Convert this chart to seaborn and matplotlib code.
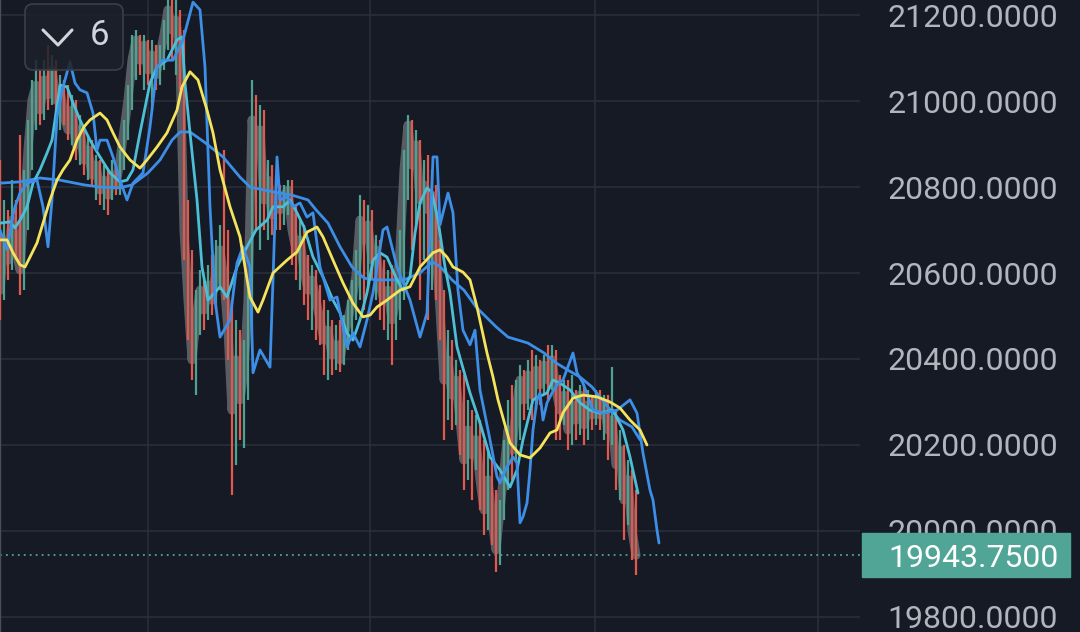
import numpy as np
import seaborn as sns
import matplotlib.pyplot as plt
from matplotlib.patches import Rectangle, FancyBboxPatch
from matplotlib.lines import Line2D
from matplotlib.transforms import blended_transform_factory

sns.set_style('dark', {'axes.facecolor': '#161a25', 'figure.facecolor': '#161a25'})
plt.rcParams['font.family'] = ['Roboto', 'DejaVu Sans']

# candles, one per bar
opens = [20654, 20560, 20677, 20630, 20723, 20654, 20607, 20747, 20886, 21002,
         21037, 20979, 21049, 21014, 21072, 21002, 21026, 20967, 20933, 20979,
         20898, 20933, 20863, 20886, 20828, 20851, 20793, 20816, 20781, 20828,
         20805, 20863, 20933, 21002, 21095, 21142, 21095, 21130, 21072, 21107,
         21061, 21107, 21154, 21212, 21165, 21188, 21095, 20700, 20537, 20398,
         20491, 20560, 20514, 20572, 20537, 20607, 20654, 20584, 20467, 20281,
         20398, 20305, 20374, 20537, 20956, 20886, 20933, 20770, 20816, 20735,
         20781, 20747, 20781, 20793, 20700, 20654, 20677, 20607, 20560, 20584,
         20537, 20491, 20444, 20467, 20409, 20433, 20398, 20456, 20491, 20537,
         20595, 20723, 20677, 20712, 20630, 20654, 20572, 20537, 20560, 20491,
         20537, 20654, 20840, 20944, 20851, 20898, 20770, 20805, 20747, 20781,
         20654, 20514, 20351, 20398, 20316, 20351, 20258, 20165, 20235, 20177,
         20212, 20119, 20049, 20119, 20026, 19956, 20049, 20142, 20235, 20188,
         20281, 20351, 20305, 20363, 20316, 20374, 20340, 20386, 20351, 20398,
         20328, 20281, 20316, 20235, 20293, 20258, 20316, 20247, 20293, 20270,
         20305, 20270, 20293, 20235, 20258, 20154, 20188, 20072, 20119, 20002]
highs = [20863, 20770, 20747, 20816, 20770, 20921, 20840, 20956, 21049, 21095,
         21072, 21095, 21130, 21107, 21095, 21061, 21049, 21037, 21014, 21002,
         20967, 20944, 20921, 20909, 20874, 20863, 20851, 20840, 20863, 20851,
         20886, 20956, 21037, 21154, 21165, 21154, 21154, 21142, 21142, 21130,
         21130, 21188, 21246, 21246, 21235, 21212, 21165, 20770, 20654, 20560,
         20607, 20584, 20619, 20642, 20677, 20712, 20886, 20700, 20537, 20491,
         20467, 20444, 20560, 21049, 21014, 20991, 20979, 20863, 20851, 20828,
         20805, 20805, 20816, 20816, 20758, 20723, 20712, 20642, 20619, 20607,
         20572, 20537, 20514, 20491, 20479, 20491, 20502, 20537, 20584, 20654,
         20781, 20770, 20758, 20747, 20688, 20677, 20630, 20607, 20619, 20584,
         20700, 20886, 20967, 20956, 20933, 20909, 20863, 20874, 20840, 20805,
         20677, 20560, 20467, 20444, 20398, 20374, 20363, 20305, 20281, 20270,
         20258, 20212, 20188, 20165, 20095, 20072, 20212, 20305, 20340, 20351,
         20386, 20374, 20398, 20421, 20409, 20398, 20409, 20433, 20433, 20421,
         20363, 20351, 20351, 20363, 20328, 20340, 20340, 20328, 20316, 20328,
         20328, 20316, 20316, 20381, 20281, 20235, 20200, 20165, 20142, 20095]
lows = [20491, 20537, 20584, 20607, 20630, 20549, 20560, 20700, 20840, 20933,
        20944, 20956, 20979, 20991, 20967, 20933, 20944, 20909, 20898, 20863,
        20851, 20828, 20816, 20805, 20770, 20758, 20747, 20735, 20770, 20781,
        20781, 20840, 20909, 20979, 21049, 21061, 21026, 21037, 20979, 21026,
        21037, 21072, 21119, 21095, 21061, 21026, 20630, 20444, 20351, 20316,
        20456, 20467, 20491, 20502, 20514, 20560, 20537, 20398, 20084, 20154,
        20212, 20193, 20305, 20467, 20700, 20654, 20700, 20677, 20688, 20700,
        20700, 20712, 20735, 20619, 20584, 20560, 20526, 20491, 20467, 20444,
        20433, 20363, 20351, 20363, 20374, 20370, 20386, 20421, 20456, 20491,
        20537, 20514, 20572, 20584, 20537, 20491, 20467, 20444, 20386, 20444,
        20491, 20537, 20770, 20654, 20700, 20537, 20630, 20491, 20560, 20537,
        20444, 20212, 20258, 20235, 20247, 20177, 20095, 20119, 20072, 20142,
        20049, 19991, 20002, 19967, 19905, 19921, 20026, 20095, 20119, 20165,
        20212, 20258, 20281, 20258, 20281, 20293, 20316, 20305, 20328, 20212,
        20212, 20247, 20188, 20200, 20212, 20223, 20200, 20212, 20235, 20247,
        20235, 20212, 20165, 20200, 20095, 20072, 19979, 20014, 19933, 19898]
closes = [20560, 20677, 20630, 20723, 20654, 20607, 20747, 20886, 21002, 21037,
          20979, 21049, 21014, 21072, 21002, 21026, 20967, 20933, 20979, 20898,
          20933, 20863, 20886, 20828, 20851, 20793, 20816, 20781, 20828, 20805,
          20863, 20933, 21002, 21095, 21142, 21095, 21130, 21072, 21107, 21061,
          21107, 21154, 21212, 21165, 21188, 21095, 20700, 20537, 20398, 20491,
          20560, 20514, 20572, 20537, 20607, 20654, 20584, 20467, 20281, 20398,
          20305, 20374, 20537, 20956, 20886, 20933, 20770, 20816, 20735, 20781,
          20747, 20781, 20793, 20700, 20654, 20677, 20607, 20560, 20584, 20537,
          20491, 20444, 20467, 20409, 20433, 20398, 20456, 20491, 20537, 20595,
          20723, 20677, 20712, 20630, 20654, 20572, 20537, 20560, 20491, 20537,
          20654, 20840, 20944, 20851, 20898, 20770, 20805, 20747, 20781, 20654,
          20514, 20351, 20398, 20316, 20351, 20258, 20165, 20235, 20177, 20212,
          20119, 20049, 20119, 20026, 19956, 20049, 20142, 20235, 20188, 20281,
          20351, 20305, 20363, 20316, 20374, 20340, 20386, 20351, 20398, 20328,
          20281, 20316, 20235, 20293, 20258, 20316, 20247, 20293, 20270, 20305,
          20270, 20293, 20235, 20258, 20154, 20188, 20072, 20119, 20002, 19943.75]

# moving averages (bar index, price)
slow_x = [0, 5, 10, 15, 21, 25, 30, 33, 37, 40, 43, 45, 47.5, 51, 55.75, 60, 62.5, 66, 70, 73,
          77, 79, 82, 85, 88, 91, 94, 97.5, 101, 105, 108, 110, 113, 116, 119, 124, 127, 132,
          136, 139, 142, 145, 148, 152, 155, 158, 160]
slow_y = [20809, 20812, 20821, 20816, 20805, 20800, 20798, 20805, 20833, 20863, 20909, 20928,
          20928, 20905, 20870, 20823, 20800, 20793, 20786, 20781, 20770, 20747, 20716, 20661,
          20614, 20588, 20584, 20584, 20584, 20600, 20626, 20615, 20584, 20560, 20521, 20475,
          20451, 20437, 20414, 20391, 20374, 20358, 20335, 20288, 20258, 20242, 20212]

yellow_x = [0, 1.75, 3.25, 5, 6.25, 7.5, 9.25, 10.75, 12.5, 14.25, 15.75, 17.5, 19.25, 21, 22.5,
            25, 26.75, 28.25, 30, 32.5, 35, 36.75, 39.25, 41.75, 44.25, 45.5, 47.5, 49.5, 51.75,
            53.25, 55, 57.5, 60, 62.5, 64.5, 65.75, 68.25, 71.75, 74.25, 76.75, 79.25, 80.75,
            83.25, 85.75, 88.25, 90.75, 92.5, 94.25, 96.75, 100, 102.5, 105, 108.25, 110,
            111.75, 113.25, 115.75, 117.5, 119.25, 121.75, 123.25, 124.5, 127.5, 130, 132.5,
            135, 137.5, 139.25, 140.75, 143.25, 145.75, 149.25, 152.5, 155, 157.5, 160, 161.75]
yellow_y = [20677, 20677, 20647, 20619, 20614, 20637, 20670, 20716, 20770, 20816, 20840, 20863,
            20909, 20940, 20956, 20972, 20956, 20926, 20893, 20863, 20844, 20863, 20893, 20926,
            20979, 21033, 21068, 21049, 20979, 20926, 20840, 20754, 20684, 20544, 20509, 20537,
            20600, 20630, 20649, 20695, 20707, 20684, 20630, 20577, 20530, 20498, 20502, 20521,
            20537, 20560, 20568, 20614, 20647, 20654, 20637, 20614, 20602, 20584, 20521, 20414,
            20358, 20305, 20205, 20177, 20170, 20193, 20228, 20235, 20275, 20309, 20316, 20312,
            20300, 20286, 20258, 20235, 20200]

cyan_x = [0, 2.5, 3.75, 5, 6.75, 8.25, 10, 11.75, 13, 13.75, 15, 16.75, 18, 20, 22.5, 25, 27.5,
          30, 31.75, 33.25, 35, 37.5, 39.25, 41.75, 44.25, 45.5, 46.25, 47.5, 49.25, 50.5, 52,
          55, 56.75, 59.25, 61.75, 64, 66.75, 68.25, 70.75, 72.5, 74.25, 76, 78.25, 80.75,
          83.25, 85, 86.75, 88.25, 90, 91.75, 93.25, 95, 96.75, 99.25, 100.75, 102.5, 103.75,
          105, 106.75, 108, 109.5, 111.25, 112.5, 114.25, 117.5, 120, 122.5, 125, 127.5,
          129.25, 130.75, 133.25, 136.75, 138.25, 140, 142.5, 145, 147.5, 150, 153.25,
          155.75, 157.5, 159.5]
cyan_y = [20716, 20719, 20705, 20723, 20754, 20809, 20840, 20879, 20909, 20956, 21037, 21033,
          21002, 20956, 20909, 20870, 20833, 20812, 20816, 20840, 20926, 21042, 21079, 21095,
          21142, 21149, 21042, 20926, 20770, 20614, 20537, 20568, 20544, 20614, 20661, 20700,
          20723, 20754, 20754, 20770, 20740, 20707, 20637, 20591, 20537, 20507, 20460, 20444,
          20491, 20554, 20630, 20647, 20637, 20584, 20560, 20591, 20693, 20763, 20798, 20788,
          20723, 20614, 20554, 20428, 20321, 20251, 20172, 20142, 20102, 20142, 20212, 20305,
          20321, 20351, 20344, 20328, 20298, 20281, 20274, 20281, 20235, 20172, 20088]

fast_x = [0, 1.75, 3, 3.75, 5, 6.75, 9.25, 10.75, 12, 13, 14.25, 15.75, 17.5, 18.75, 20, 21.75,
          23.25, 24.25, 25, 26.75, 28.25, 30, 31.75, 33.25, 35.75, 37.5, 39.25, 40.75, 43.25,
          45.75, 48.25, 50, 51.25, 52.5, 53.75, 55, 57.5, 59.25, 60.75, 62.5, 63.25, 65, 67.5,
          68.25, 69.25, 70, 71.75, 73.25, 75, 76.75, 78.25, 80, 82.5, 84.25, 86.75, 88.25, 90,
          91.75, 93.25, 95.75, 96.75, 99.25, 102.5, 105, 106.75, 108.25, 109.25, 110, 112,
          113.25, 114.5, 115.75, 117.5, 118.75, 120, 122.5, 124.25, 125, 126.75, 128.25,
          129.25, 130, 130.75, 131.75, 132.5, 133.25, 134.25, 135, 135.75, 136.75, 138,
          139.25, 140.75, 143.25, 144.25, 145.75, 148.25, 150.75, 154.25, 157.5, 159.25,
          160.75, 162.5, 163.25, 164.25, 164.75]
fast_y = [20700, 20654, 20723, 20754, 20786, 20809, 20816, 20754, 20661, 20770, 20963, 21033,
          21091, 21042, 21026, 21019, 20972, 20886, 20909, 20909, 20870, 20816, 20770, 20809,
          20833, 20940, 21079, 21095, 21095, 21142, 21230, 21212, 21079, 20754, 20537, 20451,
          20491, 20623, 20661, 20614, 20368, 20421, 20381, 20584, 20870, 20770, 20777, 20754,
          20763, 20730, 20740, 20614, 20537, 20544, 20428, 20461, 20428, 20491, 20554, 20700,
          20707, 20614, 20537, 20451, 20507, 20870, 20870, 20712, 20786, 20740, 20560, 20467,
          20433, 20467, 20328, 20212, 20126, 20112, 20149, 20172, 20158, 20019, 20033, 20065,
          20142, 20235, 20305, 20321, 20258, 20298, 20321, 20340, 20351, 20414, 20368, 20344,
          20281, 20274, 20281, 20305, 20274, 20181, 20095, 20072, 20002, 19972]

price_ticks = [19800, 20000, 20200, 20400, 20600, 20800, 21000, 21200]
time_ticks = [37, 92.5, 148.75, 204.5]
last_price = closes[-1]

bg = '#161a25'
green = '#4ea28f'
red = '#e3584c'
teal = '#50a596'

fig = plt.figure(figsize=(10.8, 6.32), dpi=100)
ax = fig.add_axes([0, 0, 860 / 1080, 1])
ax.set_facecolor(bg)

idx = np.arange(len(closes))
o = np.array(opens)
c = np.array(closes)
cols = np.where(c >= o, green, red)

# grey price trace behind the candles
sns.lineplot(x=idx, y=closes, ax=ax, color='#66696f', lw=6.5, alpha=0.85,
             estimator=None, zorder=2, solid_capstyle='round')

ax.vlines(idx, lows, highs, colors=cols, lw=1.6, zorder=3)
body = np.maximum(np.abs(c - o), 3)
ax.bar(idx, body, bottom=np.minimum(o, c), width=0.7, color=cols, zorder=3, linewidth=0)

sns.lineplot(x=slow_x, y=slow_y, ax=ax, color='#3d8ee6', lw=2.0, estimator=None, zorder=4)
sns.lineplot(x=cyan_x, y=cyan_y, ax=ax, color='#4cbfd6', lw=2.0, estimator=None, zorder=4)
sns.lineplot(x=fast_x, y=fast_y, ax=ax, color='#3d8ee6', lw=2.0, estimator=None, zorder=4)
sns.lineplot(x=yellow_x, y=yellow_y, ax=ax, color='#f5e35c', lw=2.0, estimator=None, zorder=5)

ax.axhline(last_price, color=teal, ls=(0, (1, 2.3)), lw=1.3, zorder=2)

ax.set_xlim(0, 215)
ax.set_ylim(19765, 21235)
ax.set_xticks(time_ticks)
ax.set_yticks(price_ticks, labels=[f'{v:.4f}' for v in price_ticks])
ax.grid(True, color='#2a2e39', lw=1.2)
ax.set_axisbelow(True)
ax.yaxis.tick_right()
ax.tick_params(axis='y', length=0, pad=20, labelsize=23, labelcolor='#b2b5be')
ax.tick_params(axis='x', length=0, labelbottom=False)
ax.set_xlabel('')
ax.set_ylabel('')
for s in ['top', 'right', 'bottom']:
    ax.spines[s].set_visible(False)
ax.spines['left'].set_color('#4a4e58')
ax.spines['left'].set_linewidth(1)

# last price tag on the scale
trans = blended_transform_factory(fig.transFigure, ax.transData)
fig.add_artist(Rectangle((862 / 1080, last_price - 51), 208 / 1080, 102,
                         transform=trans, color=teal, zorder=5))
fig.text(888 / 1080, last_price, f'{last_price:.4f}', transform=trans, fontsize=23,
         color='white', va='center_baseline', ha='left', zorder=6)

# collapsed legend button
fig.add_artist(FancyBboxPatch((0.25, 5.62), 0.98, 0.66,
                              boxstyle='round,pad=0,rounding_size=0.08',
                              transform=fig.dpi_scale_trans,
                              fc=(0.11, 0.125, 0.17, 0.85), ec='#3b3f4a', lw=1.2, zorder=7))
fig.add_artist(Line2D([0.43, 0.58, 0.72], [6.02, 5.87, 6.02], transform=fig.dpi_scale_trans,
                      color='#d1d4dc', lw=2.2, solid_capstyle='round', zorder=8))
fig.text(1.0, 5.965, '6', transform=fig.dpi_scale_trans, fontsize=25, color='#d1d4dc',
         ha='center', va='center', zorder=8)

fig.savefig('out.png', dpi=100, facecolor=bg)
